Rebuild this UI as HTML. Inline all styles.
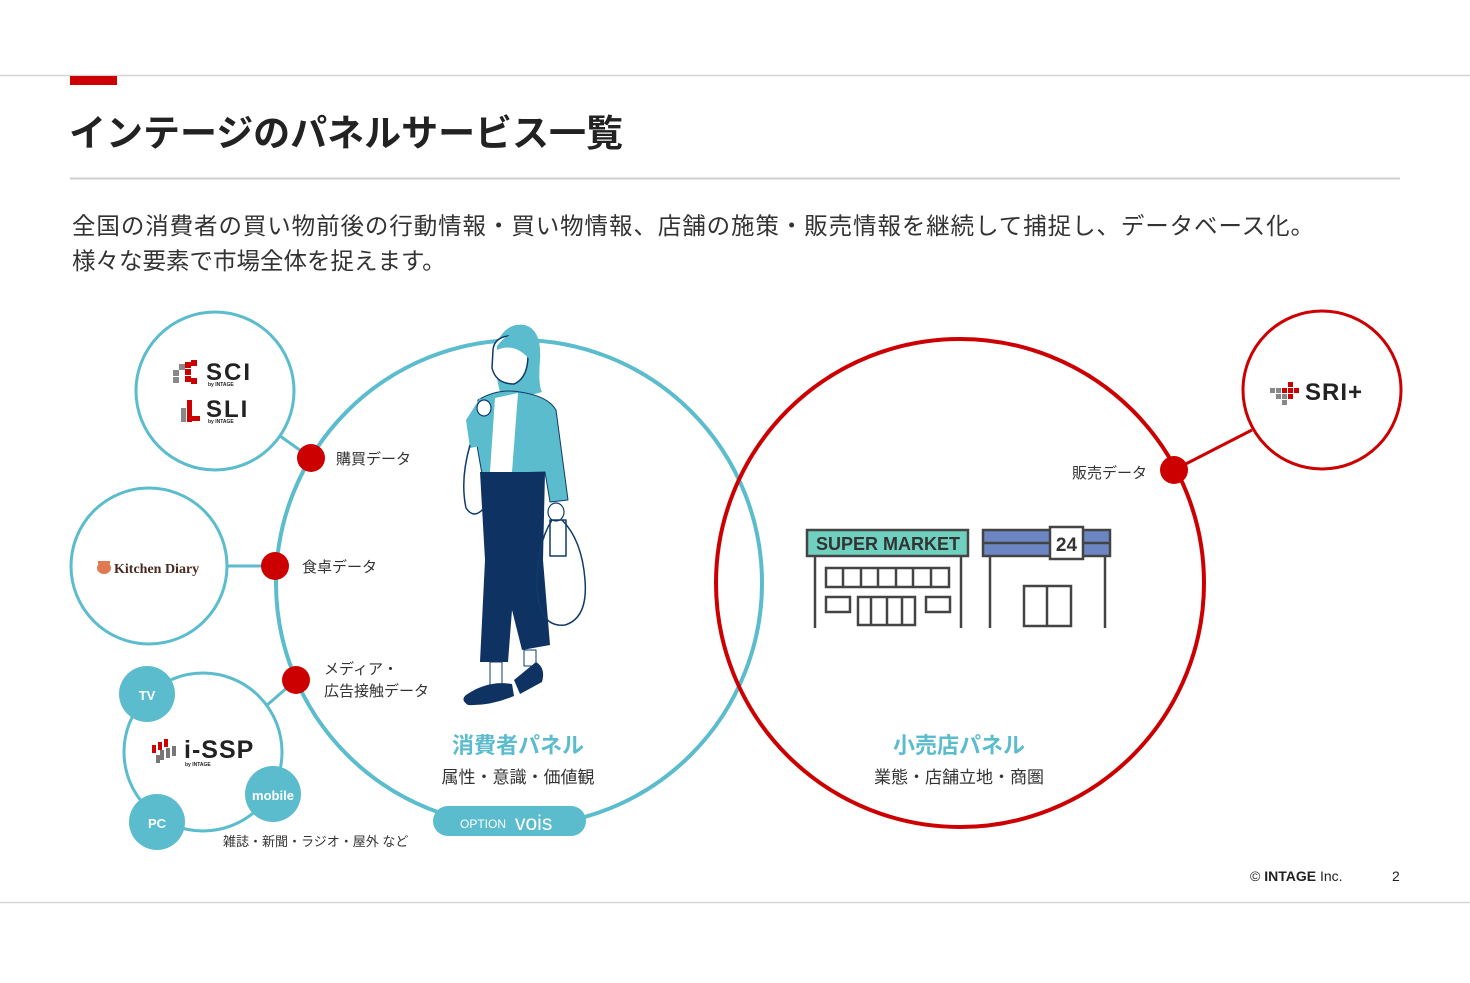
<!DOCTYPE html>
<html><head><meta charset="utf-8"><style>
html,body{margin:0;padding:0;background:#fff;}
body{width:1470px;height:978px;overflow:hidden;}
svg text{font-family:"Liberation Sans","Noto Sans CJK JP",sans-serif;}
</style></head><body>
<svg width="1470" height="978" viewBox="0 0 1470 978" xmlns="http://www.w3.org/2000/svg">
<line x1="0" y1="75.5" x2="1470" y2="75.5" stroke="#d4d4d4" stroke-width="1.5"/>
<rect x="70" y="76" width="47" height="9" fill="#cc0000"/>
<text x="69" y="146" font-size="37" font-weight="bold" fill="#222" textLength="554">インテージのパネルサービス一覧</text>
<line x1="70" y1="178.5" x2="1400" y2="178.5" stroke="#cfcfcf" stroke-width="2"/>
<text x="72" y="234" font-size="23.5" fill="#333" textLength="1242">全国の消費者の買い物前後の行動情報・買い物情報、店舗の施策・販売情報を継続して捕捉し、データベース化。</text>
<text x="72" y="269" font-size="23.5" fill="#333">様々な要素で市場全体を捉えます。</text>

<line x1="280" y1="436" x2="311" y2="458" stroke="#5bbccd" stroke-width="3"/>
<line x1="228" y1="566" x2="275" y2="566" stroke="#5bbccd" stroke-width="3"/>
<line x1="266" y1="706" x2="296" y2="680" stroke="#5bbccd" stroke-width="3"/>
<line x1="1174" y1="470" x2="1252" y2="430" stroke="#cc0000" stroke-width="3"/>

<circle cx="519" cy="583" r="243" fill="none" stroke="#5bbccd" stroke-width="4"/>
<circle cx="960" cy="583" r="244" fill="none" stroke="#cc0000" stroke-width="4"/>

<circle cx="215" cy="391" r="79" fill="#fff" stroke="#5bbccd" stroke-width="3"/>
<circle cx="149" cy="566" r="78" fill="#fff" stroke="#5bbccd" stroke-width="3"/>
<circle cx="203" cy="752" r="79" fill="#fff" stroke="#5bbccd" stroke-width="3"/>
<circle cx="1322" cy="390" r="79" fill="#fff" stroke="#cc0000" stroke-width="3"/>

<g>
 <rect x="173" y="370" width="6" height="6" fill="#888"/><rect x="179" y="364" width="6" height="6" fill="#888"/><rect x="173" y="377" width="6" height="6" fill="#888"/>
 <rect x="185" y="362" width="6" height="6" fill="#cc0000"/><rect x="191" y="360" width="6" height="6" fill="#cc0000"/><rect x="185" y="369" width="6" height="6" fill="#cc0000"/><rect x="185" y="376" width="6" height="6" fill="#cc0000"/><rect x="191" y="378" width="6" height="6" fill="#cc0000"/>
 <text x="206" y="380" font-size="24" font-weight="bold" fill="#222" letter-spacing="2">SCI</text>
 <text x="208" y="386" font-size="5" font-weight="bold" fill="#222">by INTAGE</text>
 <rect x="181" y="408" width="5" height="14" fill="#888"/><rect x="187" y="400" width="5" height="22" fill="#cc0000"/><rect x="192" y="416" width="8" height="5" fill="#cc0000"/>
 <text x="206" y="417" font-size="24" font-weight="bold" fill="#222" letter-spacing="2">SLI</text>
 <text x="208" y="423" font-size="5" font-weight="bold" fill="#222">by INTAGE</text>
</g>
<ellipse cx="104" cy="568" rx="7" ry="6" fill="#e07a50"/>
<rect x="98" y="561" width="12" height="3" fill="#e07a50"/>
<text x="114" y="573" font-size="14" font-weight="bold" fill="#4a2a20" style="font-family:'Liberation Serif',serif">Kitchen Diary</text>
<g fill="#777"><rect x="160" y="750" width="4" height="10"/><rect x="166" y="748" width="4" height="10"/><rect x="172" y="746" width="4" height="10"/><rect x="156" y="755" width="4" height="8"/></g>
<g fill="#cc0000"><rect x="152" y="745" width="4" height="8"/><rect x="158" y="742" width="4" height="8"/><rect x="164" y="739" width="4" height="8"/></g>
<text x="184" y="758" font-size="25" font-weight="bold" fill="#222" letter-spacing="1">i-SSP</text>
<text x="185" y="766" font-size="5" font-weight="bold" fill="#222">by INTAGE</text>
<circle cx="147" cy="694" r="28" fill="#5bbccd"/><text x="147" y="700" font-size="13" font-weight="bold" fill="#fff" text-anchor="middle">TV</text>
<circle cx="273" cy="794" r="28" fill="#5bbccd"/><text x="273" y="800" font-size="13" font-weight="bold" fill="#fff" text-anchor="middle">mobile</text>
<circle cx="157" cy="822" r="28" fill="#5bbccd"/><text x="157" y="828" font-size="13" font-weight="bold" fill="#fff" text-anchor="middle">PC</text>
<text x="223" y="846" font-size="13" fill="#333">雑誌・新聞・ラジオ・屋外 など</text>
<g fill="#888"><rect x="1270" y="388" width="5" height="5"/><rect x="1276" y="388" width="5" height="5"/><rect x="1282" y="394" width="5" height="5"/><rect x="1276" y="394" width="5" height="5"/><rect x="1282" y="400" width="5" height="5"/></g>
<g fill="#cc0000"><rect x="1288" y="382" width="5" height="5"/><rect x="1282" y="388" width="5" height="5"/><rect x="1288" y="388" width="5" height="5"/><rect x="1294" y="388" width="5" height="5"/><rect x="1288" y="394" width="5" height="5"/></g>
<text x="1305" y="400" font-size="24" font-weight="bold" fill="#222" letter-spacing="1">SRI+</text>

<circle cx="311" cy="458" r="14" fill="#cc0000"/>
<circle cx="275" cy="566" r="14" fill="#cc0000"/>
<circle cx="296" cy="680" r="14" fill="#cc0000"/>
<circle cx="1174" cy="470" r="14" fill="#cc0000"/>
<text x="336" y="464" font-size="15" fill="#333">購買データ</text>
<text x="302" y="572" font-size="15" fill="#333">食卓データ</text>
<text x="324" y="674" font-size="15" fill="#333">メディア・</text>
<text x="324" y="696" font-size="15" fill="#333">広告接触データ</text>
<text x="1072" y="478" font-size="15" fill="#333">販売データ</text>

<!-- woman figure -->
<g stroke-linejoin="round">
 <!-- hair back -->
 <path d="M496 345 Q505 322 525 325 Q542 330 540 360 Q538 385 542 392 L520 398 L500 392 Q494 370 496 345Z" fill="#5bbccd"/>
 <!-- face -->
 <path d="M493 350 Q494 338 508 336 Q526 338 528 355 Q528 378 514 384 Q496 384 492 368Z" fill="#fff" stroke="#0e3b6b" stroke-width="1.5"/>
 <path d="M497 346 Q510 328 528 338 L530 360 Q515 342 497 350Z" fill="#5bbccd"/>
 <!-- jacket -->
 <path d="M478 400 Q498 388 520 392 Q548 396 556 410 L568 500 L550 502 L545 472 L482 474 L476 440 Z" fill="#5bbccd" stroke="#0e3b6b" stroke-width="1"/>
 <path d="M495 398 L518 393 L512 472 L490 472Z" fill="#fff"/>
 <!-- raised arm -->
 <path d="M466 420 L480 398 L492 410 L486 445 L470 448Z" fill="#5bbccd"/>
 <ellipse cx="484" cy="408" rx="7" ry="8" fill="#fff" stroke="#0e3b6b" stroke-width="1.2"/>
 <!-- pants -->
 <path d="M480 472 L545 472 L543 560 L550 645 L522 650 L512 610 L508 662 L480 662 L485 560Z" fill="#0e3363"/>
 <!-- legs + shoes -->
 <rect x="490" y="662" width="12" height="24" fill="#fff" stroke="#0e3b6b" stroke-width="1"/>
 <rect x="524" y="650" width="12" height="16" fill="#fff" stroke="#0e3b6b" stroke-width="1"/>
 <path d="M466 695 Q488 680 512 684 L514 696 Q490 706 468 705 Q460 700 466 695Z" fill="#0e3363"/>
 <path d="M514 680 L536 662 Q546 668 542 682 L520 694Z" fill="#0e3363"/>
 <!-- bag -->
 <ellipse cx="556" cy="512" rx="8" ry="9" fill="#fff" stroke="#0e3b6b" stroke-width="1.2"/>
 <path d="M552 520 Q536 545 537 590 Q540 628 565 625 Q588 618 585 580 Q582 540 562 520" fill="none" stroke="#0e3b6b" stroke-width="1.5"/>
 <rect x="550" y="520" width="16" height="36" fill="none" stroke="#0e3b6b" stroke-width="1.5"/>
 <path d="M470 445 Q460 480 466 508 Q474 520 484 508" fill="none" stroke="#0e3b6b" stroke-width="1.5"/>
</g>
<text x="518" y="753" font-size="22" font-weight="bold" fill="#5bbccd" text-anchor="middle">消費者パネル</text>
<text x="518" y="783" font-size="17" fill="#333" text-anchor="middle">属性・意識・価値観</text>
<rect x="433" y="806" width="153" height="30" rx="15" fill="#5bbccd"/>
<text x="460" y="828" font-size="12" fill="#fff">OPTION</text>
<text x="515" y="830" font-size="21" fill="#fff">vois</text>

<g stroke="#444" stroke-width="2.5" fill="none">
 <rect x="807" y="530" width="161" height="26" fill="#6fd0c0"/>
 <line x1="815" y1="556" x2="815" y2="628"/><line x1="961" y1="556" x2="961" y2="628"/>
 <rect x="826" y="568" width="123" height="19"/>
 <line x1="843" y1="568" x2="843" y2="587"/><line x1="861" y1="568" x2="861" y2="587"/><line x1="878" y1="568" x2="878" y2="587"/><line x1="896" y1="568" x2="896" y2="587"/><line x1="913" y1="568" x2="913" y2="587"/><line x1="931" y1="568" x2="931" y2="587"/>
 <rect x="826" y="597" width="24" height="15"/><rect x="926" y="597" width="24" height="15"/>
 <rect x="858" y="597" width="57" height="28"/><line x1="871" y1="597" x2="871" y2="625"/><line x1="887" y1="597" x2="887" y2="625"/><line x1="902" y1="597" x2="902" y2="625"/>
 <rect x="983" y="530" width="127" height="26" fill="#6c86c4"/>
 <line x1="983" y1="543" x2="1110" y2="543"/>
 <rect x="1050" y="527" width="33" height="32" fill="#fff"/>
 <line x1="990" y1="556" x2="990" y2="628"/><line x1="1105" y1="556" x2="1105" y2="628"/>
 <rect x="1024" y="586" width="47" height="40"/><line x1="1047" y1="586" x2="1047" y2="626"/>
</g>
<text x="888" y="550" font-size="18" font-weight="bold" fill="#333" text-anchor="middle">SUPER MARKET</text>
<text x="1066.5" y="551" font-size="19" font-weight="bold" fill="#333" text-anchor="middle">24</text>
<text x="959" y="753" font-size="22" font-weight="bold" fill="#5bbccd" text-anchor="middle">小売店パネル</text>
<text x="959" y="783" font-size="17" fill="#333" text-anchor="middle">業態・店舗立地・商圏</text>

<text x="1250" y="881" font-size="14" fill="#222">© <tspan font-weight="bold">INTAGE</tspan> Inc.</text>
<text x="1392" y="881" font-size="14" fill="#222">2</text>
<line x1="0" y1="902.5" x2="1470" y2="902.5" stroke="#d4d4d4" stroke-width="1.5"/>
</svg>
</body></html>
